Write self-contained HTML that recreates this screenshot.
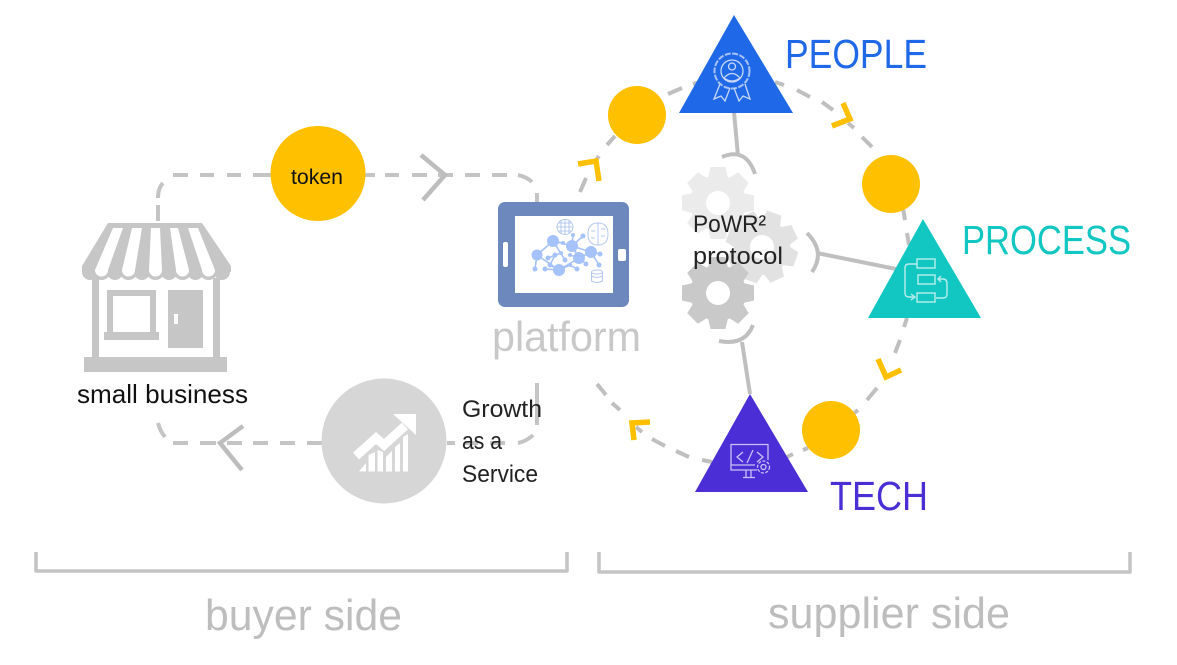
<!DOCTYPE html>
<html><head><meta charset="utf-8"><style>
html,body{margin:0;padding:0;background:#fff;width:1177px;height:665px;overflow:hidden}
svg{display:block}
text{font-family:"Liberation Sans",sans-serif}
</style></head><body>
<svg width="1177" height="665" viewBox="0 0 1177 665" xmlns="http://www.w3.org/2000/svg">
<defs>
<g id="gear">
<g id="t4"><path id="t" d="M-10 -25 L-7.500 -36 L7.500 -36 L10 -25 Z"/><use href="#t" transform="rotate(90)"/><use href="#t" transform="rotate(180)"/><use href="#t" transform="rotate(270)"/></g>
<use href="#t4" transform="rotate(45)"/>
<circle r="28"/>
</g>
</defs>

<!-- left loop -->
<g fill="none" stroke="#c4c4c4" stroke-width="4">
<path d="M158 221 L158 205 M158 198 Q158 188 163 183 M173 175 L188 175 M200 175 L214 175 M227 175 L241 175 M253 175 L272 175"/>
<path d="M365 175 L375 175 M385 175 L399 175 M412 175 L427 175 M438 175 L453 175 M465 175 L480 175 M492 175 L507 175 M518 175 Q527 177 532 182 M537 193 L537 203"/>
<path d="M421 155 L445 175 L423 200" stroke-width="4.500" stroke="#bdbdbd"/>
<path d="M537 383 L537 425 M533 435 Q527 441 518 443 M490 443 L505 443 M465 443 L478 443 M447 443 L455 443"/>
<path d="M322 443 L307 443 M295 443 L280 443 M268 443 L253 443 M242 443 L227 443 M216 443 L200 443 M188 443 L173 443 M165 437 Q160 431 158 423"/>
<path d="M243 426 L220 443 L242 470" stroke-width="4.500" stroke="#bdbdbd"/>
</g>

<!-- ring dashes -->
<path fill="none" stroke="#bfbfbf" stroke-width="4" d="M580 192 L586 178 M594 163 L599 156 M607 145 L615 136 M668 94 L682 88 M693 84 L700 82 M775 82 L784 85 M797 90 L810 97 M822 102 L833 110 M848 123 L854 128 M862 137 L872 147 M903 208 L905 220 M907 233 L909 245 M907 318 L904 327 M900 340 L895 353 M877 388 L867 400 M858 410 L852 415 M808 448 L803 450 M793 454 L787 457 M712 462 L702 460 M689 457 L676 451 M665 446 L652 439 M642 432 L636 427 M620 410 L612 403 M606 395 L597 384"/>

<!-- connectors -->
<g fill="none" stroke="#bfbfbf" stroke-width="4">
<path d="M734 112 L738 156"/>
<path d="M722 157 Q746 147 755 174"/>
<path d="M817 253 L896 269"/>
<path d="M807 233 Q826 252 812 272"/>
<path d="M742 342 L750 394"/>
<path d="M719 341 Q745 346 753 325"/>
</g>

<!-- gears -->
<g transform="translate(718,203)" fill="#ebebeb"><use href="#gear"/><circle r="12" fill="#fff"/></g>
<g transform="translate(762,247) rotate(20)" fill="#e2e2e2"><use href="#gear"/><circle r="12" fill="#fff"/></g>
<g transform="translate(718,293)" fill="#c9c9c9"><use href="#gear"/><circle r="12" fill="#fff"/></g>

<!-- yellow circles -->
<g fill="#ffc000">
<circle cx="318" cy="173.500" r="47.500"/>
<circle cx="637" cy="115" r="29"/>
<circle cx="891" cy="184" r="29"/>
<circle cx="831" cy="430" r="29"/>
</g>

<!-- chevrons -->
<g fill="none" stroke="#ffc000" stroke-width="5.500">
<path d="M578 164 L596 161 L599 181"/>
<path d="M843 103 L850 119 L832 126"/>
<path d="M878 359 L886 377 L901 370"/>
<path d="M650 422 L632 423 L634 440"/>
</g>

<!-- triangles -->
<polygon points="734,15 679,113 793,113" fill="#1f69e8"/>
<polygon points="923,219 868,318 981,318" fill="#12c7c2"/>
<polygon points="750,394 695,492 808,492" fill="#4b2ed6"/>

<!-- people icon -->
<g fill="none" stroke="#c9d8f8" stroke-width="1.300">
<circle cx="732" cy="71" r="17.500" stroke-width="2" stroke-dasharray="6 1.500" opacity=".8"/>
<circle cx="732" cy="71" r="11"/>
<circle cx="732" cy="66.500" r="3.500"/>
<path d="M724 78 Q732 69 740 78 Q732 84 724 78"/>
<path d="M720 84 L714 99 L721 96 L725 101 L730 88"/>
<path d="M745 84 L750 99 L743 96 L739 101 L734 88"/>
</g>

<!-- process icon -->
<g fill="none" stroke="#b9efec" stroke-width="1.400">
<rect x="917" y="259" width="18" height="9"/>
<rect x="918" y="275" width="17" height="9"/>
<rect x="917" y="293" width="18" height="9"/>
<path d="M917 264 L909 264 Q905 264 905 268 L905 293 Q905 297 909 297 L915 297"/>
<path d="M911 294 L915 297 L911 300"/>
<path d="M936 298 L943 298 Q947 298 947 294 L947 284 Q947 279 943 279 L938 279"/>
<path d="M941 276 L938 279 L941 282"/>
</g>

<!-- tech icon -->
<g fill="none" stroke="#c9c2f4" stroke-width="1.300">
<path d="M757 470 L731 470 L731 444.500 L768 444.500 L768 460"/>
<path d="M731 465 L755 465"/>
<path d="M746 470 L746 477 M751 470 L751 477 M743 477.500 L755 477.500"/>
<path d="M743 452 L737 457 L743 462 M757 452 L763 457 L757 462 M753 450 L747 463"/>
<circle cx="763.500" cy="467" r="6" stroke-dasharray="3 1.500"/>
<circle cx="763.500" cy="467" r="2.500"/>
</g>

<!-- tablet -->
<rect x="498" y="202" width="131" height="105" rx="7" fill="#6d88bd"/>
<rect x="515" y="216" width="98" height="77" fill="#fff"/>
<rect x="503" y="242" width="5" height="25" rx="2" fill="#fff"/>
<rect x="618" y="249" width="8" height="12" rx="2" fill="#fff"/>
<g stroke="#a6c2fa" stroke-width="1.600" fill="none">
<path d="M537 255 L553 241 L572 246 L579 258 L559 270 L537 255 M553 241 L565 260 M572 246 L591 252 M579 258 L591 252 M559 270 L545 269 M537 255 L535 269 M559 270 L570 265 L577 269 M572 246 L583 236 M572 246 L573 235 M553 241 L563 243 M591 252 L600 254 M591 252 L599 265 M579 258 L586 264 M548 258 L561 253 M555 255 L550 265 L559 270 M570 255 L579 258"/>
</g>
<g fill="#a6c2fa">
<circle cx="537" cy="255" r="5.500"/><circle cx="553" cy="241" r="6"/><circle cx="572" cy="246" r="6"/><circle cx="579" cy="258" r="6"/><circle cx="591" cy="252" r="6"/><circle cx="559" cy="270" r="6"/>
<circle cx="583" cy="236" r="2.500"/><circle cx="573" cy="235" r="2"/><circle cx="563" cy="243" r="2"/><circle cx="548" cy="258" r="2.500"/><circle cx="555" cy="255" r="2.500"/><circle cx="561" cy="253" r="2"/><circle cx="565" cy="260" r="2.500"/><circle cx="570" cy="255" r="2"/><circle cx="550" cy="265" r="2.500"/><circle cx="545" cy="269" r="2.500"/><circle cx="535" cy="269" r="2.500"/><circle cx="570" cy="265" r="2"/><circle cx="577" cy="269" r="2.500"/><circle cx="586" cy="264" r="2.500"/><circle cx="600" cy="254" r="2.500"/><circle cx="599" cy="265" r="2.500"/>
</g>
<g fill="none" stroke="#b4c8f0" stroke-width="1">
<ellipse cx="565" cy="227" rx="8" ry="7.500"/><path d="M557 227 H573 M565 220 V235 M559 223 H571 M559 231 H571 M561 220 V234 M569 220 V234"/>
<path d="M598 223 Q608 223 608 234 Q608 245 598 245 Q588 245 588 234 Q588 223 598 223 M598 223 V245 M591 231 H595 M601 229 H605 M591 238 H595 M601 236 H605"/>
<ellipse cx="597" cy="272" rx="5.500" ry="2"/><path d="M591.500 272 V281 Q597 284 602.500 281 V272 M591.500 276 Q597 279 602.500 276"/>
</g>

<!-- store -->
<g fill="#c6c6c6">
<path d="M108 223 L202 223 L231 266 L231 272 L82 272 L82 266 Z"/>
<circle cx="90" cy="272" r="8"/><circle cx="222" cy="272" r="8"/>
<circle cx="101.500" cy="271" r="9"/><circle cx="115" cy="272" r="8"/><circle cx="128.500" cy="271" r="9"/><circle cx="142" cy="272" r="8"/><circle cx="155.500" cy="271" r="9"/><circle cx="169" cy="272" r="8"/><circle cx="182.500" cy="271" r="9"/><circle cx="195.500" cy="272" r="8"/><circle cx="208.500" cy="271" r="9"/>
<rect x="92" y="278" width="7" height="82"/>
<rect x="213" y="278" width="7" height="82"/>
<rect x="84" y="357" width="143" height="15"/>
<rect x="107" y="290" width="49" height="46"/>
<rect x="104" y="332" width="55" height="8"/>
<rect x="168" y="290" width="35" height="58"/>
</g>
<rect x="113" y="296" width="37" height="36" fill="#fff"/>
<rect x="174" y="314" width="4" height="10" fill="#fff"/>
<g fill="#fff">
<path d="M113 228 L123 228 L108 270 A6.500 6.500 0 0 1 95 270 Z"/>
<path d="M132 228 L142 228 L135 270 A6.500 6.500 0 0 1 122 270 Z"/>
<path d="M151 228 L160 228 L162 270 A6.500 6.500 0 0 1 149 270 Z"/>
<path d="M170 228 L178 228 L189 270 A6.500 6.500 0 0 1 176 270 Z"/>
<path d="M188 228 L198 228 L215 270 A6.500 6.500 0 0 1 202 270 Z"/>
</g>

<!-- growth circle -->
<circle cx="384" cy="441" r="62.500" fill="#d6d6d6"/>
<g fill="#fff">
<path d="M359 471.500 L366 463 L366 471.500 Z"/>
<path d="M368.500 471.500 V455 L375 452 V471.500 Z"/>
<path d="M377.500 471.500 V450 L383 452 V471.500 Z"/>
<path d="M386 471.500 V457 L392 451 V471.500 Z"/>
<path d="M395 471.500 V447 L400 443 V471.500 Z"/>
<path d="M403 471.500 V437 L408 434 V471.500 Z"/>
</g>
<path d="M356 456 L376 438 L384 445 L405 426" fill="none" stroke="#fff" stroke-width="9"/>
<polygon points="393,414 416,414 416,435" fill="#fff"/>

<!-- brackets -->
<g fill="none" stroke="#c4c4c4" stroke-width="3.500" stroke-linejoin="round">
<path d="M36 552 L36 571 L567 571 L567 552"/>
<path d="M599 552 L599 572 L1130 572 L1130 552"/>
</g>

<!-- labels -->
<text x="785" y="68" font-size="41" fill="#1f69e8" textLength="142" lengthAdjust="spacingAndGlyphs">PEOPLE</text>
<text x="962" y="254" font-size="41" fill="#12c7c2" textLength="169" lengthAdjust="spacingAndGlyphs">PROCESS</text>
<text x="830" y="510" font-size="41" fill="#4b2ed6" textLength="98" lengthAdjust="spacingAndGlyphs">TECH</text>
<text x="492" y="351" font-size="42" fill="#c8c8c8" textLength="149" lengthAdjust="spacingAndGlyphs">platform</text>
<text x="205" y="630" font-size="44" fill="#bdbdbd" textLength="197" lengthAdjust="spacingAndGlyphs">buyer side</text>
<text x="768" y="628" font-size="44" fill="#bdbdbd" textLength="242" lengthAdjust="spacingAndGlyphs">supplier side</text>
<text x="77" y="403" font-size="26" fill="#111" textLength="171" lengthAdjust="spacingAndGlyphs">small business</text>
<text x="291" y="184" font-size="21" fill="#111" textLength="52" lengthAdjust="spacingAndGlyphs">token</text>
<g font-size="24" fill="#222">
<text x="462" y="417" textLength="80" lengthAdjust="spacingAndGlyphs">Growth</text>
<text x="462" y="449" textLength="40" lengthAdjust="spacingAndGlyphs">as a</text>
<text x="462" y="482" textLength="76" lengthAdjust="spacingAndGlyphs">Service</text>
<text x="693" y="232" textLength="73" lengthAdjust="spacingAndGlyphs">PoWR²</text>
<text x="693" y="264" textLength="90" lengthAdjust="spacingAndGlyphs">protocol</text>
</g>
</svg>
</body></html>
